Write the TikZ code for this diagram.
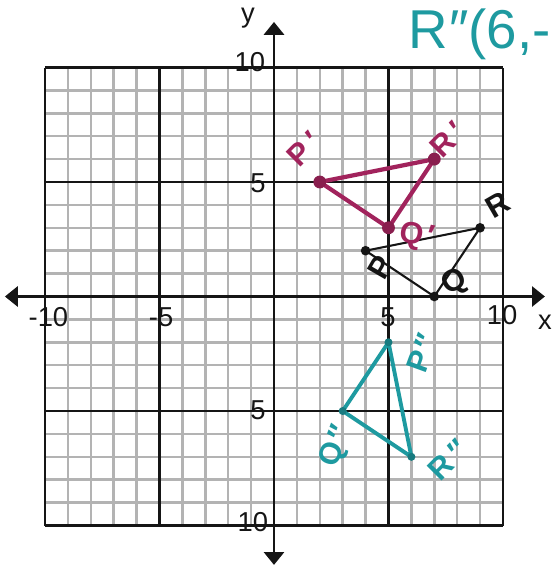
\documentclass[tikz,border=0pt]{standalone}
\usepackage{fontspec}
\setmainfont{Liberation Sans}
\usetikzlibrary{arrows.meta}
\definecolor{ink}{HTML}{151515}
\definecolor{gridgrey}{HTML}{B3B3B3}
\definecolor{plum}{HTML}{A1235C}
\definecolor{tealpen}{HTML}{1E9AA0}
\tikzset{
  minorline/.style={draw=gridgrey,line width=1.6pt},
  majorline/.style={draw=ink,line width=1.5pt},
  axis/.style={draw=ink,line width=1.6pt,{Triangle[length=8pt,width=12.5pt]}-{Triangle[length=8pt,width=12.5pt]}},
  ticklab/.style={font=\fontsize{17}{17}\selectfont,text=ink,inner sep=0pt},
  hand/.style={font=\fontsize{19}{19}\selectfont\bfseries,inner sep=0pt},
  tri/.style={line join=round,line cap=round}
}

\begin{document}
\begin{tikzpicture}[
        x=0.5cm,y=0.5cm,
        vdot/.style={circle,fill,inner sep=0pt,minimum size=#1},
        vdot/.default=5pt
      ]
        \useasboundingbox (-11.965,-11.812) rectangle (12.14,12.948);
        \clip (-11.965,-11.812) rectangle (12.14,12.948);

        % grid
        \foreach \i in {-9,...,-6,-4,-3,-2,-1,1,2,3,4,6,7,8,9} {
          \draw[minorline] (\i,-10) -- (\i,10);
          \draw[minorline] (-10,\i) -- (10,\i);
        }
        \foreach \i in {-10,-5,5,10} {
          \draw[majorline] (\i,-10) -- (\i,10);
          \draw[majorline] (-10,\i) -- (10,\i);
        }

        % axes
        \coordinate (xl) at (-11.75,0);
        \coordinate (xr) at (11.83,0);
        \coordinate (yb) at (0,-11.72);
        \coordinate (yt) at (0,11.99);
        \draw[axis] (xl) -- (xr);
        \draw[axis] (yb) -- (yt);
        \node[ticklab] (xlab) at (11.83,-1.11) {x};
        \node[ticklab] (ylab) at (-1.14,12.16) {y};

        \node[ticklab] (xm10) at (-9.85,-0.9) {-10};
        \node[ticklab] (xm5) at (-4.93,-0.9) {-5};
        \node[ticklab] (xp5) at (4.98,-0.9) {5};
        \node[ticklab] (xp10) at (9.96,-0.81) {10};
        \node[ticklab] (yp10) at (-1.05,10.24) {10};
        \node[ticklab] (yp5) at (-0.70,4.95) {5};
        \node[ticklab] (ym5) at (-0.70,-4.96) {5};
        \node[ticklab] (ym10) at (-0.92,-9.85) {10};

        % PQR
        \coordinate (P) at (4,2);
        \coordinate (Q) at (7,0);
        \coordinate (R) at (9,3);
        \draw[tri,ink,line width=1.3pt] (P) -- (Q) -- (R) -- cycle;
        \foreach \v in {P,Q,R} \node[vdot=6pt,fill=ink] (d\v) at (\v) {};
        \node[hand,text=ink,rotate=60] (lP) at (4.63,1.29) {P};
        \node[hand,text=ink,rotate=30] (lQ) at (7.9,0.59) {Q};
        \node[hand,text=ink,rotate=30] (lR) at (9.78,4.0) {R};

        % P'Q'R'
        \coordinate (P1) at (2,5);
        \coordinate (Q1) at (5,3);
        \coordinate (R1) at (7,6);
        \draw[tri,plum,line width=2.6pt] (P1) -- (Q1) -- (R1) -- cycle;
        \foreach \v in {P1,Q1,R1} \node[vdot=8pt,fill=plum!85!black] (d\v) at (\v) {};
        \node[hand,text=plum,rotate=45] (lP1) at (1.3,6.45) {P\kern4pt′};
        \node[hand,text=plum,rotate=-10] (lQ1) at (6.23,2.61) {Q\kern2pt′};
        \node[hand,text=plum,rotate=45] (lR1) at (7.6,6.85) {R\kern4pt′};

        % P''Q''R''
        \coordinate (P2) at (5,-2);
        \coordinate (Q2) at (3,-5);
        \coordinate (R2) at (6,-7);
        \draw[tri,tealpen,line width=2.4pt] (P2) -- (Q2) -- (R2) -- cycle;
        \foreach \v in {P2,Q2,R2} \node[vdot=5pt,fill=tealpen!80!black] (d\v) at (\v) {};
        \node[hand,text=tealpen,rotate=70] (lP2) at (6.45,-2.48) {P\kern2pt″};
        \node[hand,text=tealpen,rotate=70] (lQ2) at (2.74,-6.56) {Q\kern2pt″};
        \node[hand,text=tealpen,rotate=45] (lR2) at (7.6,-7.14) {R\kern4pt″};

        \node[text=tealpen,font=\fontsize{34}{34}\selectfont,inner sep=0pt,anchor=west] (note) at (5.85,11.45) {R\kern1pt″(6,-};
      \end{tikzpicture}
\end{document}
